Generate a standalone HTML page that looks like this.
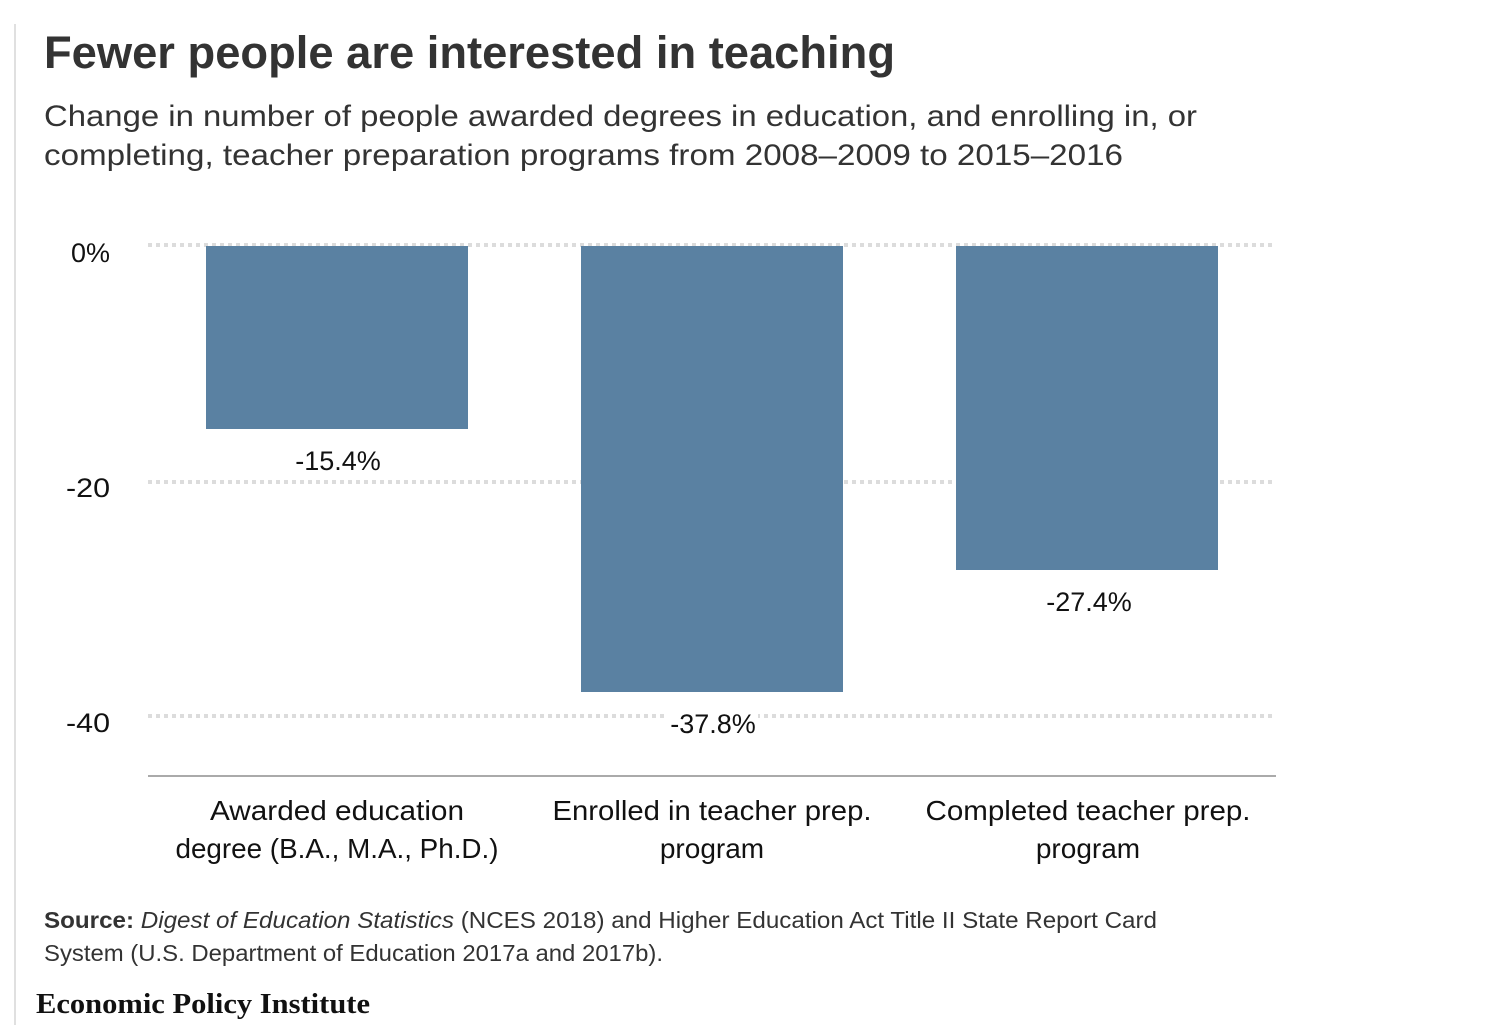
<!DOCTYPE html>
<html><head><meta charset="utf-8"><style>
html,body{margin:0;padding:0;background:#fff;}
svg{display:block;}
</style></head><body>
<svg width="1500" height="1025" xmlns="http://www.w3.org/2000/svg" font-family="Liberation Sans, sans-serif">
<rect width="1500" height="1025" fill="#fff"/>
<line x1="15" y1="24" x2="15" y2="1025" stroke="#e0e0e0" stroke-width="2"/>
<text x="44" y="68" font-size="45" font-weight="bold" fill="#333" textLength="851" lengthAdjust="spacingAndGlyphs">Fewer people are interested in teaching</text>
<text x="44" y="126" font-size="30" fill="#333" textLength="1153" lengthAdjust="spacingAndGlyphs">Change in number of people awarded degrees in education, and enrolling in, or</text>
<text x="44" y="165" font-size="30" fill="#333" textLength="1079" lengthAdjust="spacingAndGlyphs">completing, teacher preparation programs from 2008–2009 to 2015–2016</text>
<g stroke="#dcdcdc" stroke-width="4" stroke-dasharray="4 4">
<line x1="148" y1="245" x2="1275" y2="245"/>
<line x1="148" y1="482" x2="1275" y2="482"/>
<line x1="148" y1="716" x2="1275" y2="716"/>
</g>
<g font-size="27" fill="#111" text-anchor="end">
<text x="110" y="262" textLength="39" lengthAdjust="spacingAndGlyphs">0%</text>
<text x="110" y="497" textLength="44" lengthAdjust="spacingAndGlyphs">-20</text>
<text x="110" y="732" textLength="44" lengthAdjust="spacingAndGlyphs">-40</text>
</g>
<g fill="#5a81a2">
<rect x="206" y="246" width="262" height="183"/>
<rect x="581" y="246" width="262" height="446"/>
<rect x="956" y="246" width="262" height="324"/>
</g>
<rect x="668" y="708" width="90" height="30" fill="#fff"/>
<g font-size="27" fill="#111" text-anchor="middle">
<text x="338" y="470">-15.4%</text>
<text x="713" y="733">-37.8%</text>
<text x="1089" y="611">-27.4%</text>
</g>
<line x1="148" y1="776" x2="1276" y2="776" stroke="#aaa" stroke-width="2"/>
<g font-size="28" fill="#111" text-anchor="middle">
<text x="337" y="820" textLength="254" lengthAdjust="spacingAndGlyphs">Awarded education</text>
<text x="337" y="858" textLength="323" lengthAdjust="spacingAndGlyphs">degree (B.A., M.A., Ph.D.)</text>
<text x="712" y="820" textLength="319" lengthAdjust="spacingAndGlyphs">Enrolled in teacher prep.</text>
<text x="712" y="858">program</text>
<text x="1088" y="820" textLength="325" lengthAdjust="spacingAndGlyphs">Completed teacher prep.</text>
<text x="1088" y="858">program</text>
</g>
<text x="44" y="928" font-size="23" fill="#333" textLength="1113" lengthAdjust="spacingAndGlyphs"><tspan font-weight="bold">Source:</tspan> <tspan font-style="italic">Digest of Education Statistics</tspan> (NCES 2018) and Higher Education Act Title II State Report Card</text>
<text x="44" y="961" font-size="23" fill="#333" textLength="619" lengthAdjust="spacingAndGlyphs">System (U.S. Department of Education 2017a and 2017b).</text>
<text x="36" y="1013" font-size="29" font-weight="bold" fill="#111" font-family="Liberation Serif, serif" textLength="334" lengthAdjust="spacingAndGlyphs">Economic Policy Institute</text>
</svg>
</body></html>
